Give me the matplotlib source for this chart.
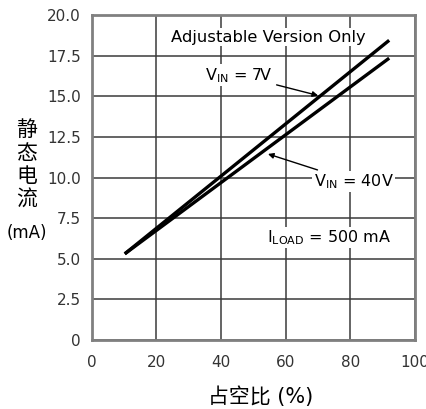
import matplotlib
matplotlib.use("Agg")
import matplotlib.pyplot as plt

plt.rcParams['font.family'] = ['DejaVu Sans', 'Noto Sans CJK SC']

# duty cycle (%) vs quiescent current (mA)
duty = [10.2, 92.0]
iq_7v = [5.3, 18.45]
iq_40v = [5.3, 17.35]

xticks = [0, 20, 40, 60, 80, 100]
yticks = [0, 2.5, 5.0, 7.5, 10.0, 12.5, 15.0, 17.5, 20.0]
ytick_labels = ['0', '2.5', '5.0', '7.5', '10.0', '12.5', '15.0', '17.5', '20.0']

fig = plt.figure(figsize=(4.27, 4.09), dpi=100)
ax = fig.add_axes([0.215, 0.169, 0.757, 0.794])

ax.plot(duty, iq_7v, color='black', lw=2.4, solid_capstyle='butt')
ax.plot(duty, iq_40v, color='black', lw=2.4, solid_capstyle='butt')

ax.set_xlim(0, 100)
ax.set_ylim(0, 20)
ax.set_xticks(xticks)
ax.set_yticks(yticks)
ax.set_yticklabels(ytick_labels)
ax.tick_params(length=0, labelsize=11, colors='#333333')
ax.tick_params(axis='x', pad=11)
ax.tick_params(axis='y', pad=8)
ax.grid(True, color='#3a3a3a', lw=1.1)
ax.set_axisbelow(True)
for s in ax.spines.values():
    s.set_color('#808080')
    s.set_linewidth(2)

txt_bg = dict(facecolor='white', edgecolor='none', pad=1)
ax.text(54.5, 18.65, 'Adjustable Version Only', ha='center', va='center',
        fontsize=11.8, bbox=txt_bg)
ax.annotate('V$_{\\mathregular{IN}}$ = 7V', xy=(70, 15.05), xytext=(45.5, 16.3),
            ha='center', va='center', fontsize=11.5, bbox=txt_bg,
            arrowprops=dict(arrowstyle='-|>', color='black', lw=1,
                            shrinkA=2, shrinkB=0, mutation_scale=8))
ax.annotate('V$_{\\mathregular{IN}}$ = 40V', xy=(54.5, 11.45), xytext=(81, 9.75),
            ha='center', va='center', fontsize=11.5, bbox=txt_bg,
            arrowprops=dict(arrowstyle='-|>', color='black', lw=1,
                            shrinkA=2, shrinkB=0, mutation_scale=8))
ax.text(73.4, 6.3, 'I$_{\\mathregular{LOAD}}$ = 500 mA', ha='center', va='center',
        fontsize=11.5, bbox=txt_bg)

fig.text(0.063, 0.597, '静\n态\n电\n流', ha='center', va='center', fontsize=15,
         linespacing=1.2)
fig.text(0.063, 0.43, '(mA)', ha='center', va='center', fontsize=12)
fig.text(0.61, 0.029, '占空比 (%)', ha='center', va='center', fontsize=15)

fig.savefig('out.png', dpi=100)
